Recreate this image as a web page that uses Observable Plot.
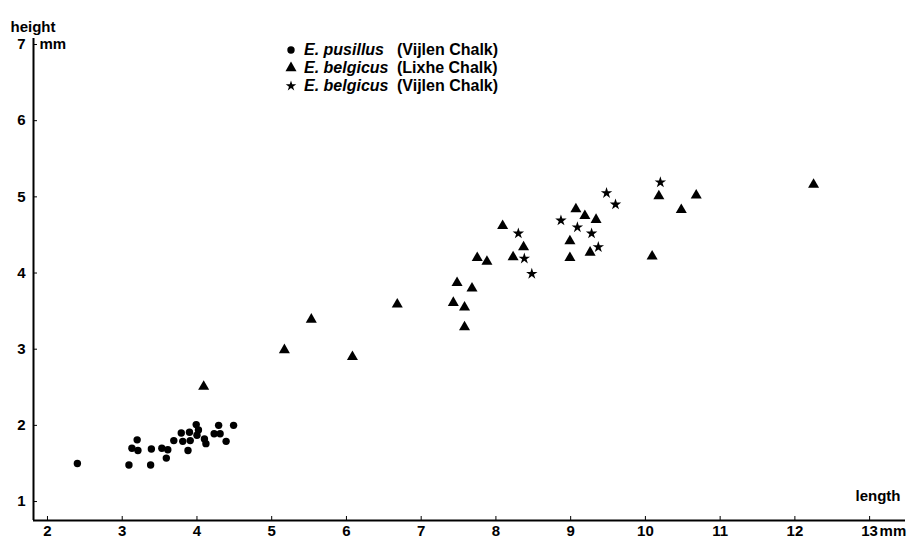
<!DOCTYPE html>
<html><head><meta charset="utf-8">
<script src="https://cdn.jsdelivr.net/npm/d3@7"></script>
<script src="https://cdn.jsdelivr.net/npm/@observablehq/plot@0.6"></script>
<style>
body{margin:0;background:#fff;}
#wrap{position:relative;width:913px;height:540px;font-family:"Liberation Sans",Arial,sans-serif;color:#000;}
.lrow{position:absolute;height:18px;line-height:18px;font-size:16px;font-weight:bold;white-space:nowrap;}
.lrow svg{position:absolute;left:0;top:2px;}
.lrow .sp{position:absolute;left:20px;font-style:italic;}
.lrow .loc{position:absolute;left:113px;}
</style></head><body><div id="wrap"></div>
<script>
// ---- data ----
const xTicks = [2,3,4,5,6,7,8,9,10,11,12,13];
const yTicks = [1,2,3,4,5,6,7];

const pusillusLength = [2.40,3.09,3.38,3.20,3.13,3.21,3.39,3.53,3.61,3.59,3.69,3.79,3.81,3.88,3.90,3.91,3.99,4.02,4.00,4.10,4.12,4.23,4.29,4.31,4.39,4.49];
const pusillusHeight = [1.50,1.48,1.48,1.81,1.70,1.67,1.69,1.70,1.68,1.57,1.80,1.90,1.79,1.67,1.91,1.80,2.01,1.94,1.87,1.82,1.76,1.89,2.00,1.89,1.79,2.00];

const lixheLength = [4.09,5.17,5.53,6.08,6.68,7.43,7.48,7.58,7.58,7.68,7.75,7.88,8.09,8.23,8.37,8.99,8.99,9.07,9.19,9.26,9.34,10.09,10.18,10.48,10.68,12.25];
const lixheHeight = [2.51,2.99,3.39,2.90,3.59,3.61,3.87,3.55,3.29,3.80,4.20,4.15,4.62,4.21,4.34,4.42,4.20,4.84,4.75,4.27,4.70,4.22,5.01,4.83,5.02,5.16];

const vijlenLength = [8.30,8.38,8.48,8.87,9.09,9.28,9.37,9.48,9.60,10.20];
const vijlenHeight = [4.52,4.19,3.99,4.69,4.60,4.52,4.34,5.05,4.90,5.19];

const legendSpecies = ["E. pusillus","E. belgicus","E. belgicus"];
const legendLocality = ["(Vijlen Chalk)","(Lixhe Chalk)","(Vijlen Chalk)"];

// ---- build ----
const pusillus = pusillusLength.map((x,i)=>({x, y: pusillusHeight[i]}));
const lixhe = lixheLength.map((x,i)=>({x, y: lixheHeight[i]}));
const vijlen = vijlenLength.map((x,i)=>({x, y: vijlenHeight[i]}));

const xDomain = [1.813, 13.48];
const yDomain = [0.751, 7.079];
const font = "Liberation Sans, Arial, sans-serif";

const chart = Plot.plot({
  width: 913, height: 540,
  marginLeft: 33, marginRight: 8, marginTop: 38, marginBottom: 20,
  style: {fontFamily: font, fontSize: "15px", fontWeight: "bold", color: "#000", background: "#fff"},
  x: {domain: xDomain, ticks: xTicks, tickSize: -4, tickPadding: 9, label: null, tickFormat: d => d},
  y: {domain: yDomain, ticks: yTicks, tickSize: -4, tickPadding: 12, label: null, tickFormat: d => d},
  marks: [
    Plot.ruleX([xDomain[0]], {strokeWidth: 2, stroke: "#000"}),
    Plot.ruleY([yDomain[0]], {strokeWidth: 2, stroke: "#000"}),
    Plot.dot(pusillus, {x: "x", y: "y", r: 3.7, fill: "#000", symbol: "circle"}),
    Plot.dot(lixhe, {x: "x", y: "y", r: 4.1, fill: "#000", symbol: "triangle"}),
    Plot.dot(vijlen, {x: "x", y: "y", r: 3.6, fill: "#000", symbol: "star"}),
    Plot.text([7], {y: d => d, frameAnchor: "left", dx: 6, textAnchor: "start", text: () => "mm", fontSize: 15, fontWeight: "bold", letterSpacing: 1.5}),
    Plot.text([13], {x: d => d, frameAnchor: "bottom", lineAnchor: "top", dy: 5, dx: 10, textAnchor: "start", text: () => "mm", fontSize: 15, fontWeight: "bold", letterSpacing: 1.5}),
    Plot.text(["length"], {frameAnchor: "bottom-right", dx: -5, dy: -20, textAnchor: "end", text: d => d, fontSize: 15, fontWeight: "bold"}),
    Plot.text(["height"], {frameAnchor: "top-left", dx: -23, dy: -17, textAnchor: "start", text: d => d, fontSize: 15, fontWeight: "bold"})
  ]
});

const wrap = document.getElementById("wrap");
wrap.appendChild(chart);

// ---- legend (HTML overlay) ----
const legendSymbols = [d3.symbolCircle, d3.symbolTriangle, d3.symbolStar];
const legendSizes = [Math.PI*3.7*3.7, Math.PI*4.1*4.1, Math.PI*3.3*3.3];
const rowCenters = [50, 67.8, 85.8];
legendSpecies.forEach((sp, i) => {
  const row = document.createElement("div");
  row.className = "lrow";
  row.style.left = "284px";
  row.style.top = (rowCenters[i] - 9) + "px";
  const path = d3.symbol(legendSymbols[i], legendSizes[i])();
  row.innerHTML = `<svg width="14" height="14" viewBox="-7 -7 14 14"><path d="${path}" fill="#000"/></svg>` +
    `<span class="sp">${sp}</span><span class="loc">${legendLocality[i]}</span>`;
  wrap.appendChild(row);
});
</script>
</body></html>
